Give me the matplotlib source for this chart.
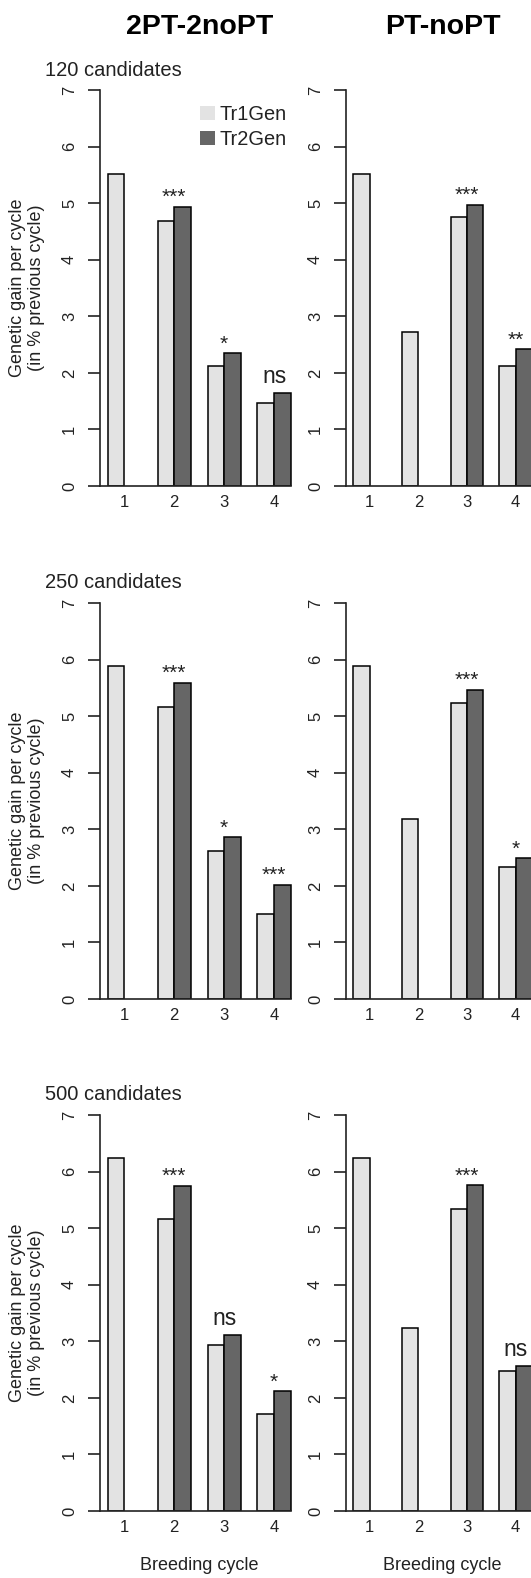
import numpy as np
import matplotlib.pyplot as plt
from matplotlib.patches import Patch

plt.rcParams['font.family'] = ['Liberation Sans', 'DejaVu Sans']

cycles = ['1', '2', '3', '4']
schemes = ['2PT-2noPT', 'PT-noPT']
sizes = ['120 candidates', '250 candidates', '500 candidates']
series = ['Tr1Gen', 'Tr2Gen']

# genetic gain per cycle (% of previous cycle), rows = 120 / 250 / 500 candidates
tr1_2pt = [[5.52, 4.68, 2.12, 1.47],
           [5.89, 5.16, 2.61, 1.50],
           [6.24, 5.16, 2.93, 1.72]]
tr2_2pt = [[np.nan, 4.94, 2.35, 1.64],
           [np.nan, 5.59, 2.86, 2.02],
           [np.nan, 5.75, 3.11, 2.12]]
sig_2pt = [['', '***', '*', 'ns'],
           ['', '***', '*', '***'],
           ['', '***', 'ns', '*']]

tr1_pt = [[5.52, 2.73, 4.76, 2.13],
          [5.89, 3.18, 5.23, 2.33],
          [6.24, 3.24, 5.34, 2.48]]
tr2_pt = [[np.nan, np.nan, 4.97, 2.42],
          [np.nan, np.nan, 5.47, 2.49],
          [np.nan, np.nan, 5.76, 2.57]]
sig_pt = [['', '', '***', '**'],
          ['', '', '***', '*'],
          ['', '', '***', 'ns']]

tr1 = [tr1_2pt, tr1_pt]
tr2 = [tr2_2pt, tr2_pt]
sig = [sig_2pt, sig_pt]

light = '#e3e3e3'
dark = '#666666'
ink = '#222222'

W, H = 531, 1578
fig = plt.figure(figsize=(W / 100, H / 100), dpi=100)

col_left = [100, 346]
col_width = [198.4, 193.3]
row_top = [90, 603, 1115]
row_h = 396
x0, x1 = 0.54, 12.46

for r in range(3):
    for c in range(2):
        l, w, t = col_left[c], col_width[c], row_top[r]
        ax = fig.add_axes([l / W, (H - t - row_h) / H, w / W, row_h / H])

        v1 = np.array(tr1[c][r], dtype=float)
        v2 = np.array(tr2[c][r], dtype=float)
        g = np.arange(4)
        ax.bar(1 + 3 * g, v1, width=1, align='edge', color=light,
               edgecolor='black', linewidth=1.1, zorder=2)
        ok = ~np.isnan(v2)
        ax.bar(2 + 3 * g[ok], v2[ok], width=1, align='edge', color=dark,
               edgecolor='black', linewidth=1.1, zorder=2)

        for i, s in enumerate(sig[c][r]):
            if not s:
                continue
            top = np.nanmax([v1[i], v2[i]])
            if s == 'ns':
                ax.annotate(s, (2 + 3 * i, top), xytext=(0, 7.2),
                            textcoords='offset points', ha='center',
                            va='baseline', fontsize=16.5, color=ink)
            else:
                ax.annotate(s, (2 + 3 * i, top), xytext=(0, 2.6),
                            textcoords='offset points', ha='center',
                            va='baseline', fontsize=15, color=ink)

        ax.set_xlim(x0, x1)
        ax.set_ylim(0, 7)
        for side in ['top', 'right', 'bottom']:
            ax.spines[side].set_visible(False)
        ax.spines['left'].set_color(ink)
        ax.spines['left'].set_linewidth(1.2)
        ax.plot([x0, 12], [0, 0], color=ink, lw=1.2, clip_on=False, zorder=3)

        ax.set_yticks(range(8))
        ax.tick_params(axis='y', length=8.6, width=1.2, pad=8, labelsize=12,
                       colors=ink)
        for lab in ax.get_yticklabels():
            lab.set_rotation(90)
            lab.set_va('center')
        ax.set_xticks([2, 5, 8, 11], cycles)
        ax.tick_params(axis='x', length=0, pad=6.5, labelsize=12, colors=ink)

        if c == 0:
            ax.text(-(l - 27) / w, 0.5, 'Genetic gain per cycle\n(in % previous cycle)',
                    transform=ax.transAxes, rotation=90, ha='center', va='center',
                    fontsize=13, linespacing=1.15, multialignment='center', color=ink)
            fig.text(45 / W, 1 - (t - 14.5) / H, sizes[r], ha='left',
                     va='baseline', fontsize=14.5, color=ink)

        if r == 0:
            fig.text((l + w / 2) / W, 1 - 33.9 / H, schemes[c], ha='center',
                     va='baseline', fontsize=20.5, fontweight='bold', color='black')
            if c == 0:
                handles = [Patch(facecolor=light, edgecolor='none', label=series[0]),
                           Patch(facecolor=dark, edgecolor='none', label=series[1])]
                ax.legend(handles=handles, loc='upper left',
                          bbox_to_anchor=((200 - l) / w, (t + row_h - 105) / row_h),
                          frameon=False, fontsize=14.4, handlelength=0.75,
                          handleheight=0.75, handletextpad=0.2, labelspacing=0.3,
                          borderpad=0, borderaxespad=0, labelcolor=ink)
        if r == 2:
            fig.text((l + w / 2) / W, 1 - 1570 / H, 'Breeding cycle', ha='center',
                     va='baseline', fontsize=13, color=ink)

fig.savefig('out.png', dpi=100)
